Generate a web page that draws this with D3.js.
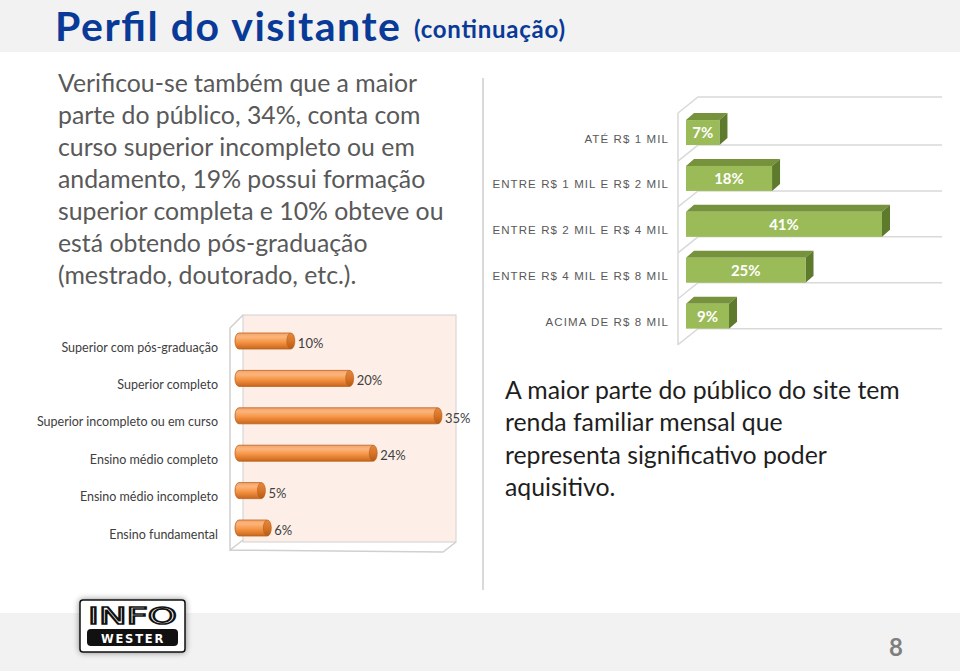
<!DOCTYPE html>
<html><head><meta charset="utf-8">
<script src="https://cdn.jsdelivr.net/npm/d3@7"></script>
<style>body{margin:0;background:#fff}svg{display:block}</style></head>
<body>
<script>
const eduCategories = ["Superior com pós-graduação","Superior completo","Superior incompleto ou em curso","Ensino médio completo","Ensino médio incompleto","Ensino fundamental"];
const eduValues = [10,20,35,24,5,6];
const incomeCategories = ["ATÉ R$ 1 MIL","ENTRE R$ 1 MIL E R$ 2 MIL","ENTRE R$ 2 MIL E R$ 4 MIL","ENTRE R$ 4 MIL E R$ 8 MIL","ACIMA DE R$ 8 MIL"];
const incomeValues = [7,18,41,25,9];
const introLines = ["Verificou-se também que a maior","parte do público, 34%, conta com","curso superior incompleto ou em","andamento, 19% possui formação","superior completa e 10% obteve ou","está obtendo pós-graduação","(mestrado, doutorado, etc.)."];
const summaryLines = ["A maior parte do público do site tem","renda familiar mensal que","representa significativo poder","aquisitivo."];

const W = 960, H = 671;
const svg = d3.select("body").append("svg").attr("width", W).attr("height", H);
const defs = svg.append("defs");
const FONT = "Lato, Carlito, Calibri, sans-serif";

// header & footer bands
svg.append("rect").attr("x",0).attr("y",0).attr("width",W).attr("height",52).attr("fill","#f2f2f2");
svg.append("rect").attr("x",0).attr("y",613).attr("width",W).attr("height",H-613).attr("fill","#f2f2f2");

svg.append("text").attr("x",55).attr("y",41).attr("font-family",FONT).attr("font-weight",700)
  .attr("font-size",41).attr("textLength",345).attr("lengthAdjust","spacing")
  .attr("fill","#0a3a98").text("Perfil do visitante");
svg.append("text").attr("x",414).attr("y",38).attr("font-family",FONT).attr("font-weight",700)
  .attr("font-size",24).attr("textLength",151).attr("lengthAdjust","spacing")
  .attr("fill","#0a3a98").text("(continuação)");

// intro paragraph
svg.append("g").selectAll("text").data(introLines).join("text")
  .attr("x",58).attr("y",(d,i)=>92+i*32).attr("font-family",FONT).attr("font-size",24.8)
  .attr("fill","#595959").text(d=>d);

// summary paragraph
svg.append("g").selectAll("text").data(summaryLines).join("text")
  .attr("x",505).attr("y",(d,i)=>399+i*32.3).attr("font-family",FONT).attr("font-size",24.8)
  .attr("fill","#1e1e1e").text(d=>d);

// separator
svg.append("line").attr("x1",483).attr("x2",483).attr("y1",78).attr("y2",590)
  .attr("stroke","#d9d9d9").attr("stroke-width",2);

// ---------- Education chart (3D cylinders) ----------
const eg = svg.append("g");
const wallC = "#d0d0d0";
eg.append("rect").attr("x",243).attr("y",315).attr("width",213).attr("height",227)
  .attr("fill","#fdefe7").attr("stroke",wallC).attr("stroke-width",1);
eg.append("path").attr("d","M243,315 L230,328 L230,550 L243,540 M230,550 L443,552 L456,542")
  .attr("fill","none").attr("stroke",wallC).attr("stroke-width",1.5);

const ex = d3.scaleLinear().domain([0,35]).range([235,441]);
const ey = d3.scalePoint().domain(eduCategories).range([322.3,546.7]).padding(0.5);
const bh = 16;
const og = defs.append("linearGradient").attr("id","og").attr("x1",0).attr("y1",0).attr("x2",0).attr("y2",1);
[["0%","#f4a468"],["25%","#fbb57d"],["55%","#f79646"],["100%","#c9661c"]].forEach(s=>og.append("stop").attr("offset",s[0]).attr("stop-color",s[1]));
const ecap = defs.append("linearGradient").attr("id","ocap").attr("x1",0).attr("y1",0).attr("x2",0).attr("y2",1);
[["0%","#e6883e"],["50%","#d77428"],["100%","#b55a14"]].forEach(s=>ecap.append("stop").attr("offset",s[0]).attr("stop-color",s[1]));

const eb = eg.selectAll("g.bar").data(eduCategories).join("g").attr("class","bar");
eb.append("rect").attr("x",ex(0)).attr("y",d=>ey(d)-bh/2)
  .attr("width",(d,i)=>ex(eduValues[i])-ex(0)).attr("height",bh).attr("rx",4).attr("ry",8)
  .attr("fill","url(#og)").attr("stroke","#b9601c").attr("stroke-width",0.8);
eb.append("ellipse").attr("cx",(d,i)=>ex(eduValues[i])-3).attr("cy",d=>ey(d))
  .attr("rx",4).attr("ry",bh/2).attr("fill","url(#ocap)").attr("stroke","#b9601c").attr("stroke-width",0.6);
eb.append("text").attr("x",(d,i)=>ex(eduValues[i])+4).attr("y",d=>ey(d)+7)
  .attr("font-family",FONT).attr("font-size",13).attr("fill","#404040").text((d,i)=>eduValues[i]+"%");
eg.selectAll("text.cat").data(eduCategories).join("text").attr("class","cat")
  .attr("x",218).attr("y",d=>ey(d)+10.5).attr("text-anchor","end")
  .attr("font-family",FONT).attr("font-size",12.5).attr("fill","#404040").text(d=>d);

// ---------- Income chart (3D boxes) ----------
const ig = svg.append("g");
const ix = d3.scaleLinear().domain([0,41]).range([686,882]);
const iy = d3.scalePoint().domain(incomeCategories).range([109.6,339.1]).padding(0.5);
const fh = 25, dx = 8, dy = 7;
const gridC = "#d9d9d9";
ig.append("path").attr("d","M678,113 L698,97 L942,97 M678,113 L678,345")
  .attr("fill","none").attr("stroke",gridC).attr("stroke-width",1.5);
ig.selectAll("path.grid").data(incomeCategories).join("path").attr("class","grid")
  .attr("d",d=>{const y=iy(d)+fh/2; return `M678,${y+16} L698,${y} L942,${y}`;})
  .attr("fill","none").attr("stroke",gridC).attr("stroke-width",1.5);

const ib = ig.selectAll("g.bar").data(incomeCategories).join("g").attr("class","bar");
ib.append("path").attr("d",(d,i)=>{const x0=ix(0),x1=ix(incomeValues[i]),t=iy(d)-fh/2;
  return `M${x0},${t} L${x0+dx},${t-dy} L${x1+dx},${t-dy} L${x1},${t} Z`;}).attr("fill","#76923c");
ib.append("path").attr("d",(d,i)=>{const x1=ix(incomeValues[i]),t=iy(d)-fh/2;
  return `M${x1},${t} L${x1+dx},${t-dy} L${x1+dx},${t+fh-dy} L${x1},${t+fh} Z`;}).attr("fill","#5e7a2c");
ib.append("rect").attr("x",ix(0)).attr("y",d=>iy(d)-fh/2).attr("width",(d,i)=>ix(incomeValues[i])-ix(0))
  .attr("height",fh).attr("fill","#9bbb59");
ib.append("text").attr("x",(d,i)=>(ix(0)+ix(incomeValues[i]))/2).attr("y",d=>iy(d)+5.5)
  .attr("text-anchor","middle").attr("font-family",FONT).attr("font-weight",700).attr("font-size",15)
  .attr("fill","#ffffff").text((d,i)=>incomeValues[i]+"%");
ig.selectAll("text.cat").data(incomeCategories).join("text").attr("class","cat")
  .attr("x",669).attr("y",d=>iy(d)+10).attr("text-anchor","end")
  .attr("font-family","Liberation Sans, Arial, sans-serif").attr("font-size",11.5)
  .attr("letter-spacing",1.1).attr("fill","#595959").text(d=>d);

// ---------- Logo ----------
const lg = svg.append("g");
const sh = defs.append("filter").attr("id","sh").attr("x","-20%").attr("y","-30%").attr("width","140%").attr("height","160%");
sh.append("feGaussianBlur").attr("in","SourceAlpha").attr("stdDeviation",3).attr("result","b");
sh.append("feComponentTransfer").attr("in","b").attr("result","o2").append("feFuncA").attr("type","linear").attr("slope",0.45);
const m = sh.append("feMerge"); m.append("feMergeNode").attr("in","o2"); m.append("feMergeNode").attr("in","SourceGraphic");
lg.append("rect").attr("x",80).attr("y",600).attr("width",105).attr("height",52).attr("rx",3)
  .attr("fill","#fff").attr("stroke","#111").attr("stroke-width",1.5).attr("filter","url(#sh)");
lg.append("text").attr("x",88).attr("y",624)
  .attr("font-family","DejaVu Sans, sans-serif").attr("font-size",23)
  .attr("textLength",89).attr("lengthAdjust","spacingAndGlyphs")
  .attr("fill","#fff").attr("stroke","#111").attr("stroke-width",1.6).text("INFO");
lg.append("rect").attr("x",87).attr("y",629).attr("width",91).attr("height",17).attr("rx",4).attr("fill","#111");
lg.append("text").attr("x",133).attr("y",642.5).attr("text-anchor","middle")
  .attr("font-family","DejaVu Sans, sans-serif").attr("font-weight",700).attr("font-size",11.5).attr("letter-spacing",1.8)
  .attr("fill","#fff").text("WESTER");

// page number
svg.append("text").attr("x",896).attr("y",656).attr("text-anchor","middle").attr("font-family",FONT)
  .attr("font-weight",700).attr("font-size",24).attr("fill","#7f7f7f").text("8");
</script>
</body></html>
